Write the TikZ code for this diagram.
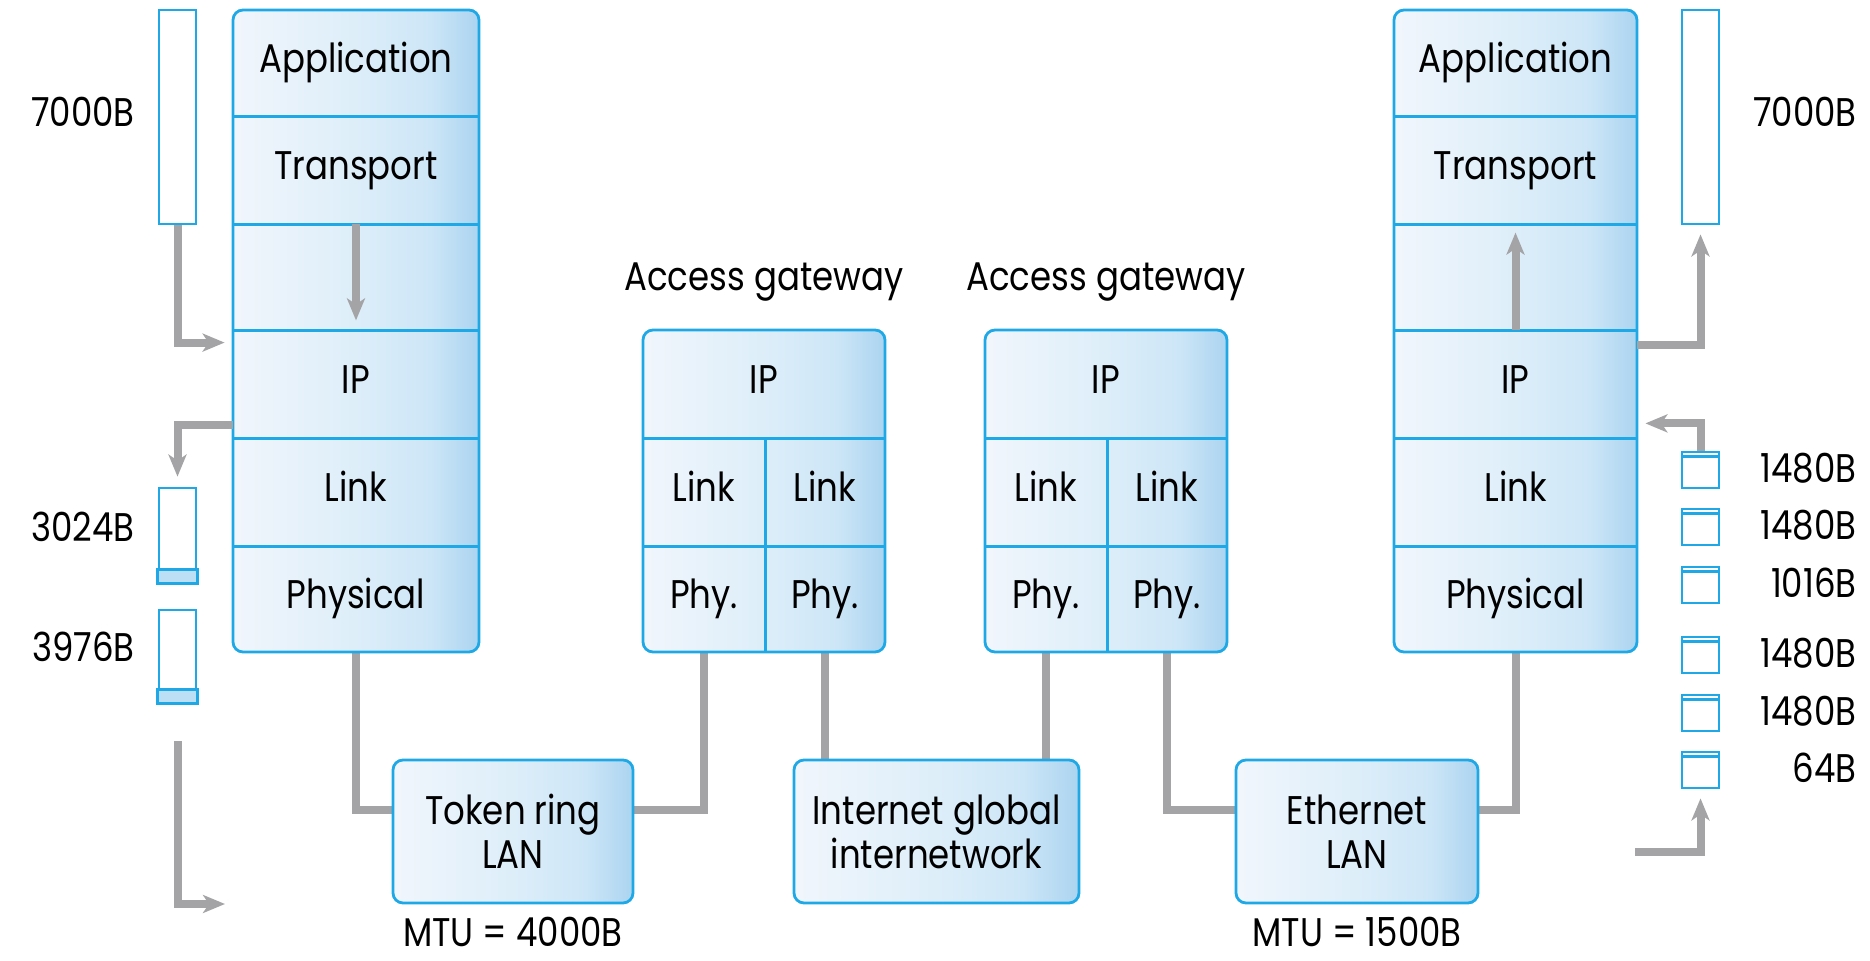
\documentclass[tikz,border=0pt]{standalone}
\usepackage{fontspec}
\setmainfont{Poppins}[FakeStretch=0.85]
\usetikzlibrary{arrows.meta,fit,backgrounds}

\definecolor{edge}{HTML}{1FA8E6}
\definecolor{wiregray}{HTML}{A4A4A7}
\definecolor{band}{HTML}{BCDFF6}
\definecolor{shA}{HTML}{F1F6FC}
\definecolor{shB}{HTML}{DDEEF9}
\definecolor{shC}{HTML}{CDE6F7}
\definecolor{shD}{HTML}{ABD4F0}
\pgfdeclarehorizontalshading{boxshade}{100bp}{color(0bp)=(shA); color(25bp)=(shA); color(50bp)=(shB); color(65bp)=(shC); color(75bp)=(shD); color(100bp)=(shD)}

\newcommand\lblfont{\fontsize{20pt}{22pt}\selectfont}

\begin{document}
\begin{tikzpicture}[x=0.5pt, y=-0.5pt,
  stackbox/.style={draw=edge, line width=1.4pt, rounded corners=5pt, shading=boxshade, inner sep=0pt},
  lay/.style={inner sep=0pt},
  divider/.style={draw=edge, line width=1.4pt},
  databar/.style={draw=edge, line width=1.4pt, fill=white, inner sep=0pt},
  txt/.style={inner sep=0pt, font=\lblfont},
  wire/.style={draw=wiregray, line width=4pt},
  flow/.style={wire, -{Stealth[length=11pt,width=9pt,inset=3pt]}},
]
\useasboundingbox (0,0) rectangle (1870,961);

% ---- sending host ----
\node[stackbox, fit={(233,10)(479,652)}] (stackL) {};
\node[lay, fit={(233,10)(479,116)}]  (appL) {};
\node[lay, fit={(233,116)(479,224)}] (traL) {};
\node[lay, fit={(233,224)(479,330)}] (netL) {};
\node[lay, fit={(233,330)(479,438)}] (ipL)  {};
\node[lay, fit={(233,438)(479,546)}] (lnkL) {};
\node[lay, fit={(233,546)(479,652)}] (phyL) {};
\foreach \n in {appL,traL,netL,ipL,lnkL}
  \draw[divider] (\n.south west) -- (\n.south east);

% ---- receiving host ----
\node[stackbox, fit={(1394,10)(1637,652)}] (stackR) {};
\node[lay, fit={(1394,10)(1637,116)}]  (appR) {};
\node[lay, fit={(1394,116)(1637,224)}] (traR) {};
\node[lay, fit={(1394,224)(1637,330)}] (netR) {};
\node[lay, fit={(1394,330)(1637,438)}] (ipR)  {};
\node[lay, fit={(1394,438)(1637,546)}] (lnkR) {};
\node[lay, fit={(1394,546)(1637,652)}] (phyR) {};
\foreach \n in {appR,traR,netR,ipR,lnkR}
  \draw[divider] (\n.south west) -- (\n.south east);

% ---- gateways ----
\node[stackbox, fit={(643,330)(885,652)}] (gwA) {};
\node[lay, fit={(643,330)(885,438)}] (gwAip) {};
\node[lay, fit={(643,438)(765,546)}] (gwAl1) {};
\node[lay, fit={(765,438)(885,546)}] (gwAl2) {};
\node[lay, fit={(643,546)(765,652)}] (gwAp1) {};
\node[lay, fit={(765,546)(885,652)}] (gwAp2) {};
\draw[divider] (gwAip.south west) -- (gwAip.south east);
\draw[divider] (gwAl1.north east) -- (gwAp1.south east);
\draw[divider] (gwAl1.south west) -- (gwAl2.south east);
\node[txt, anchor=base] (gwAname) at ([yshift=19pt]gwA.north) {Access gateway};

\node[stackbox, fit={(985,330)(1227,652)}] (gwB) {};
\node[lay, fit={(985,330)(1227,438)}] (gwBip) {};
\node[lay, fit={(985,438)(1107,546)}] (gwBl1) {};
\node[lay, fit={(1107,438)(1227,546)}] (gwBl2) {};
\node[lay, fit={(985,546)(1107,652)}] (gwBp1) {};
\node[lay, fit={(1107,546)(1227,652)}] (gwBp2) {};
\draw[divider] (gwBip.south west) -- (gwBip.south east);
\draw[divider] (gwBl1.north east) -- (gwBp1.south east);
\draw[divider] (gwBl1.south west) -- (gwBl2.south east);
\node[txt, anchor=base] (gwBname) at ([yshift=19pt]gwB.north) {Access gateway};

% layer names, set on a common baseline a little below each cell's centre
\foreach \n/\s in {appL/Application, traL/Transport, ipL/IP, lnkL/Link, phyL/Physical,
                   appR/Application, traR/Transport, ipR/IP, lnkR/Link, phyR/Physical,
                   gwAip/IP, gwAl1/Link, gwAl2/Link, gwAp1/Phy., gwAp2/Phy.,
                   gwBip/IP, gwBl1/Link, gwBl2/Link, gwBp1/Phy., gwBp2/Phy.}
  \node[txt, anchor=base] (name\n) at ([yshift=-4.75pt]\n.center) {\s};

% ---- networks ----
\node[stackbox, fit={(393,760)(633,903)}] (tok) {};
\node[txt, anchor=base] (tokA) at ([yshift=3.5pt]tok.center) {Token ring};
\node[txt, anchor=base] (tokB) at ([yshift=-18.5pt]tok.center) {LAN};
\node[txt, anchor=base] (tokmtu) at ([yshift=-21pt]tok.south) {MTU = 4000B};

\node[stackbox, fit={(794,760)(1079,903)}] (inet) {};
\node[txt, anchor=base] (inetA) at ([yshift=3.5pt]inet.center) {Internet global};
\node[txt, anchor=base] (inetB) at ([yshift=-18.5pt]inet.center) {internetwork};

\node[stackbox, fit={(1236,760)(1478,903)}] (eth) {};
\node[txt, anchor=base] (ethA) at ([yshift=3.5pt]eth.center) {Ethernet};
\node[txt, anchor=base] (ethB) at ([yshift=-18.5pt]eth.center) {LAN};
\node[txt, anchor=base] (ethmtu) at ([yshift=-21pt]eth.south) {MTU = 1500B};

% ---- datagrams on the sending side ----
\node[databar, fit={(159,10)(196,224)}] (barL) {};
\node[txt, anchor=base east] (barLtxt) at (135,127) {7000B};
\node[databar, fit={(159,488)(196,582)}] (fragA) {};
\filldraw[fill=band, draw=edge, line width=1.4pt] (fragA.south west) rectangle ([yshift=7pt]fragA.south east);
\node[txt, anchor=base east] (fragAtxt) at (135,542) {3024B};
\node[databar, fit={(159,610)(196,702)}] (fragB) {};
\filldraw[fill=band, draw=edge, line width=1.4pt] (fragB.south west) rectangle ([yshift=7pt]fragB.south east);
\node[txt, anchor=base east] (fragBtxt) at (135,662) {3976B};

% ---- datagrams on the receiving side ----
\node[databar, fit={(1682,10)(1719,224)}] (barR) {};
\node[txt, anchor=base east] (barRtxt) at (1857,127) {7000B};
\foreach \nm/\yy/\sz in {fr1/452/1480B, fr2/509/1480B, fr3/567/1016B, fr4/637/1480B, fr5/695/1480B, fr6/752/64B} {
  \node[databar, fit={(1682,\yy)(1719,\yy+36)}] (\nm) {};
  \draw[divider] ([yshift=-3pt]\nm.north west) -- ([yshift=-3pt]\nm.north east);
  \node[txt, anchor=base east] (lbl\nm) at (1857,\yy+31) {\sz};
}

% ---- data flow arrows ----
\draw[flow] (barL.south) |- ([shift={(-4pt,-6.5pt)}]ipL.north west);
\draw[flow] (netL.north) -- ([yshift=5pt]netL.south);
\draw[flow] ([yshift=6.5pt]ipL.south west) -| ([yshift=5pt]fragA.north);
\coordinate (outL) at (225,904);
\draw[flow] ([yshift=-19pt]fragB.south) |- (outL);

\draw[flow] (ipR.north) -- ([yshift=-4.5pt]netR.north);
\draw[flow] ([yshift=-7.5pt]ipR.north east) -| ([yshift=-4.5pt]barR.south);
\draw[flow] (fr1.north) |- ([shift={(4pt,7.5pt)}]ipR.south east);
\coordinate (inR) at (1635,852);
\draw[flow] (inR) -| ([yshift=-4.5pt]fr6.south);

% ---- physical links ----
\begin{scope}[on background layer]
\draw[wire] (phyL.south) |- ([yshift=10.5pt]tok.west);
\draw[wire] ([yshift=10.5pt]tok.east) -| (gwAp1.south);
\draw[wire] (gwAp2.south) -- (gwAp2.south |- inet.north);
\draw[wire] (gwBp1.south) -- (gwBp1.south |- inet.north);
\draw[wire] (gwBp2.south) |- ([yshift=10.5pt]eth.west);
\draw[wire] ([yshift=10.5pt]eth.east) -| (phyR.south);
\end{scope}
\end{tikzpicture}
\end{document}
